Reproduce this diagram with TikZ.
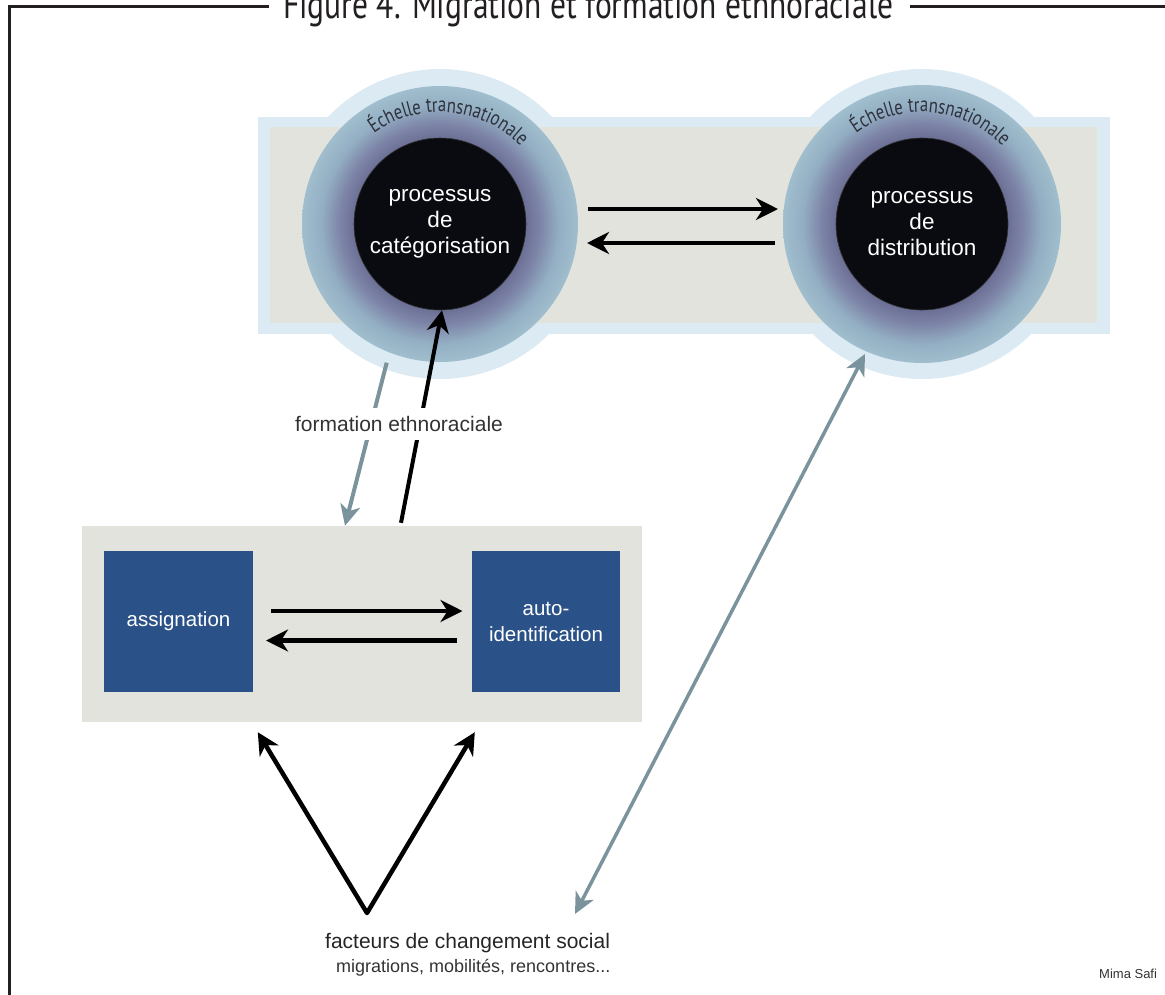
\documentclass[tikz,border=0pt]{standalone}
\usepackage{fontspec}
\setmainfont{Liberation Sans}
\newfontfamily\titlefont{PT Sans}
\newfontfamily\arcfont[FakeStretch=0.8]{PT Sans}
\usetikzlibrary{arrows.meta,decorations.text,calc}
\definecolor{halo}{HTML}{DCEAF4}
\definecolor{bandgray}{HTML}{E2E3DD}
\definecolor{boxblue}{HTML}{2B5288}
\definecolor{slate}{HTML}{7A939D}
\definecolor{ringin}{HTML}{6C6F95}
\definecolor{ringa}{HTML}{7C83A6}
\definecolor{ringb}{HTML}{93AEC3}
\definecolor{ringout}{HTML}{A0BECD}
\definecolor{txt}{HTML}{333333}
\definecolor{framec}{HTML}{231F20}
\definecolor{arctxt}{HTML}{2E323C}
\definecolor{corec}{HTML}{0A0B10}
\pgfdeclareradialshading{ringshade}{\pgfpoint{0bp}{0bp}}{color(0bp)=(ringin); color(15.5bp)=(ringin); color(18bp)=(ringa); color(21.5bp)=(ringb); color(25bp)=(ringout); color(50bp)=(ringout)}
\tikzset{
 core/.style={circle, fill=corec, draw=black!80, line width=0.6pt, minimum size=172pt, inner sep=0pt, text=white, align=center, font=\fontsize{22.5}{26}\selectfont},
 sq/.style={rectangle, fill=boxblue, minimum width=149pt, minimum height=141pt, inner sep=0pt, text=white, align=center, font=\fontsize{20.5}{26}\selectfont},
 blk/.style={line width=4.5pt, black, -{Stealth[length=22pt,width=22pt,inset=7pt]}},
 blkv/.style={line width=4.5pt, black, line join=round, {Stealth[length=22pt,width=22pt,inset=7pt]}-{Stealth[length=22pt,width=22pt,inset=7pt]}},
 gry/.style={line width=4pt, slate, -{Stealth[length=21pt,width=20pt,inset=6pt]}},
 gry2/.style={line width=3.5pt, slate, {Stealth[length=21pt,width=20pt,inset=6pt]}-{Stealth[length=21pt,width=20pt,inset=6pt]}},
 arctext/.style={decorate, decoration={text along path, text align=center, text={|\arcfont\fontsize{21}{21}\selectfont\color{arctxt}|Échelle transnationale}}},
}
\begin{document}
\begin{tikzpicture}[x=1pt,y=-1pt]
\useasboundingbox (0,0) rectangle (1165,994);
% frame and title
\draw[framec, line width=3.3pt] (269,6.5) -- (9.3,6.5) -- (9.3,1000);
\draw[framec, line width=3.3pt] (910,6.5) -- (1170,6.5);
\node[anchor=base west, inner sep=0pt, text=framec] (title) at (283,18) {\resizebox{610pt}{\height}{\titlefont\fontsize{40}{40}\selectfont Figure 4. Migration et formation ethnoraciale}};
% top band
\fill[halo] (258,117) rectangle (1110,334);
\fill[halo] (440,224) circle (155);
\fill[halo] (922,224) circle (155);
\fill[bandgray] (270,127) rectangle (1097,323);
\shade[shading=ringshade] (440,224) circle (138);
\shade[shading=ringshade] (922,224) circle (139);
\node[core] (cat) at (440,224) {processus\\de\\catégorisation};
\node[core] (dist) at (922,224) {processus\\de\\distribution};
\path[arctext] ($(cat.center)+(-170:112)$) arc[start angle=-170, end angle=0, radius=112];
\path[arctext] ($(dist.center)+(-170:112)$) arc[start angle=-170, end angle=0, radius=112];
\draw[blk] ($(cat.center)+(148,-15)$) -- ($(dist.center)+(-144,-15)$);
\draw[blk] ($(dist.center)+(-147,19)$) -- ($(cat.center)+(147,19)$);
% lower band
\node[fill=bandgray, minimum width=560pt, minimum height=196pt, inner sep=0pt] (lowband) at (362,624) {};
\node[sq] (assign) at (178.5,621.5) {assignation};
\node[sq, minimum width=148pt] (autoid) at (546,621.5) {auto-\\identification};
\draw[blk] ($(assign.center)+(92.5,-10.5)$) -- ($(autoid.center)+(-83.5,-10.5)$);
\draw[blk] ($(autoid.center)+(-89,19)$) -- ($(assign.center)+(87.5,19)$);
% formation arrows
\draw[gry] ($(cat.center)+(-53.3,138.7)$) -- ([xshift=-17pt]lowband.north);
\draw[blk, line width=4pt] ([xshift=39pt, yshift=3pt]lowband.north) -- ([xshift=2pt]cat.south);
\node[fill=white, inner xsep=2pt, inner ysep=8pt, text=txt, font=\fontsize{21}{21}\selectfont] (form) at (399,424) {formation ethnoraciale};
% bottom
\node[anchor=base west, inner sep=0pt, text=black!85, font=\fontsize{21}{21}\selectfont] (fact) at (325,948) {facteurs de changement social};
\node[anchor=base west, inner sep=0pt, text=txt, font=\fontsize{18}{18}\selectfont] (migr) at (336,972) {migrations, mobilités, rencontres...};
\coordinate (apex) at (367,913);
\draw[blkv] ($(lowband.south west)+(176,10)$) -- (apex) -- ($(lowband.south west)+(393,10)$);
\draw[gry2] ($(fact.base west)+(250,-34)$) -- ($(dist.center)+(-57,130)$);
\node[anchor=base west, inner sep=0pt, text=txt, font=\fontsize{13}{13}\selectfont] (sig) at (1099,978) {Mima Safi};
\end{tikzpicture}
\end{document}
